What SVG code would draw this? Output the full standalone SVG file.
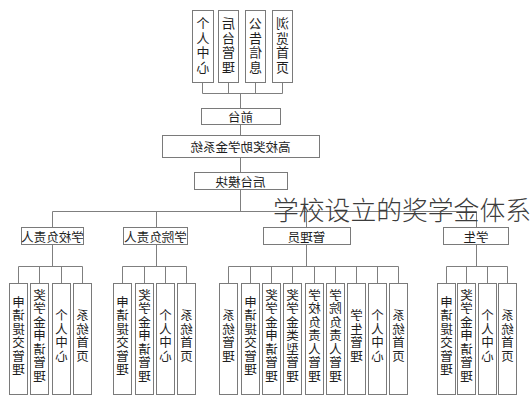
<svg xmlns="http://www.w3.org/2000/svg" width="532" height="400" viewBox="0 0 532 400">
<style>
.box{fill:#fff;stroke:#7a7a7a;stroke-width:1}
.ln{fill:none;stroke:#7f7f7f;stroke-width:1}
.t{font-family:"Noto Sans CJK SC","Noto Sans CJK JP",sans-serif;font-size:12.5px;fill:#1e1e1e;text-anchor:middle;dominant-baseline:central}
.vt{font-family:"Noto Sans CJK SC","Noto Sans CJK JP",sans-serif;font-size:12.5px;fill:#1e1e1e;text-anchor:middle;writing-mode:vertical-rl;letter-spacing:1px}
.vtop{font-size:13px;letter-spacing:1.5px}
.title{font-family:"Noto Sans CJK SC","Noto Sans CJK JP",sans-serif;font-size:25.8px;fill:#3c3c3c;font-weight:300}
</style>
<rect width="532" height="400" fill="#fff"/>
<g id="connectors">
<path class="ln" d="M202.5 82V93.5H282.5M228.5 82V93.5M255.5 82V93.5M282.5 82V93.5M240.5 93.5V108M240.5 124V135M240.5 157V172M240.5 189V211.5"/>
<path class="ln" d="M52.5 211.5H476.5M52.5 211.5V227M156.5 211.5V227M306.5 211.5V227M476.5 211.5V227"/>
<path class="ln" d="M52.5 244V266.5M18.5 266.5H82.5M18.5 266.5V283M39.5 266.5V283M61.5 266.5V283M82.5 266.5V283"/>
<path class="ln" d="M156.5 244V266.5M122.5 266.5H186.5M122.5 266.5V283M144.5 266.5V283M165.5 266.5V283M186.5 266.5V283"/>
<path class="ln" d="M306.5 244V266.5M228.5 266.5H398.5M228.5 266.5V283M250.5 266.5V283M271.5 266.5V283M292.5 266.5V283M314.5 266.5V283M335.5 266.5V283M356.5 266.5V283M377.5 266.5V283M398.5 266.5V283"/>
<path class="ln" d="M476.5 244V266.5M446.5 266.5H507.5M446.5 266.5V283M466.5 266.5V283M487.5 266.5V283M507.5 266.5V283"/>
</g>
<g id="top-gerenzhongxin"><rect class="box" x="192.5" y="10.5" width="21" height="72"/><text class="vt vtop" x="203" y="46" transform="matrix(-1 0 0 1 406 0)">个人中心</text></g>
<g id="top-houtaiguanli"><rect class="box" x="218.5" y="10.5" width="20" height="72"/><text class="vt vtop" x="228.5" y="46" transform="matrix(-1 0 0 1 457 0)">后台管理</text></g>
<g id="top-gonggaoxinxi"><rect class="box" x="245.5" y="10.5" width="20" height="72"/><text class="vt vtop" x="255.5" y="46" transform="matrix(-1 0 0 1 511 0)">公告信息</text></g>
<g id="top-liulanshouye"><rect class="box" x="272.5" y="10.5" width="20" height="72"/><text class="vt vtop" x="282.5" y="46" transform="matrix(-1 0 0 1 565 0)">浏览首页</text></g>
<g id="qiantai"><rect class="box" x="201.5" y="108.5" width="79" height="16"/><text class="t" x="240.5" y="116.5" transform="matrix(-1 0 0 1 481 0)">前台</text></g>
<g id="xitong"><rect class="box" x="162.5" y="135.5" width="157" height="22"/><text class="t" x="240.5" y="146.5" transform="matrix(-1 0 0 1 481 0)">高校奖助学金系统</text></g>
<g id="houtai"><rect class="box" x="194.5" y="172.5" width="93" height="17"/><text class="t" x="240.5" y="181" transform="matrix(-1 0 0 1 481 0)">后台模块</text></g>
<g id="xuexiao"><rect class="box" x="21.5" y="227.5" width="62" height="17"/><text class="t" x="52.5" y="236" transform="matrix(-1 0 0 1 105 0)">学校负责人</text></g>
<g id="xueyuan"><rect class="box" x="123.5" y="227.5" width="64" height="17"/><text class="t" x="155.5" y="236" transform="matrix(-1 0 0 1 311 0)">学院负责人</text></g>
<g id="guanliyuan"><rect class="box" x="263.5" y="227.5" width="87" height="17"/><text class="t" x="306.5" y="236" transform="matrix(-1 0 0 1 613 0)">管理员</text></g>
<g id="xuesheng"><rect class="box" x="443.5" y="227.5" width="65" height="17"/><text class="t" x="476" y="236" transform="matrix(-1 0 0 1 952 0)">学生</text></g>

<g id="g1-shenqing"><rect class="box" x="9.5" y="283.5" width="18" height="111"/><text class="vt" x="18.5" y="336" transform="matrix(-1 0 0 1 37 0)">申请提交管理</text></g>
<g id="g1-jiangxuejin"><rect class="box" x="30.5" y="283.5" width="18" height="111"/><text class="vt" x="39.5" y="336" transform="matrix(-1 0 0 1 79 0)">奖学金申请管理</text></g>
<g id="g1-geren"><rect class="box" x="52.5" y="283.5" width="18" height="111"/><text class="vt" x="61.5" y="336" transform="matrix(-1 0 0 1 123 0)">个人中心</text></g>
<g id="g1-shouye"><rect class="box" x="73.5" y="283.5" width="18" height="111"/><text class="vt" x="82.5" y="336" transform="matrix(-1 0 0 1 165 0)">系统首页</text></g>

<g id="g2-shenqing"><rect class="box" x="113.5" y="283.5" width="18" height="111"/><text class="vt" x="122.5" y="336" transform="matrix(-1 0 0 1 245 0)">申请提交管理</text></g>
<g id="g2-jiangxuejin"><rect class="box" x="135.5" y="283.5" width="18" height="111"/><text class="vt" x="144.5" y="336" transform="matrix(-1 0 0 1 289 0)">奖学金申请管理</text></g>
<g id="g2-geren"><rect class="box" x="156.5" y="283.5" width="18" height="111"/><text class="vt" x="165.5" y="336" transform="matrix(-1 0 0 1 331 0)">个人中心</text></g>
<g id="g2-shouye"><rect class="box" x="177.5" y="283.5" width="18" height="111"/><text class="vt" x="186.5" y="336" transform="matrix(-1 0 0 1 373 0)">系统首页</text></g>

<g id="g3-xitongguanli"><rect class="box" x="219.5" y="283.5" width="18" height="111"/><text class="vt" x="228.5" y="336" transform="matrix(-1 0 0 1 457 0)">系统管理</text></g>
<g id="g3-shenqing"><rect class="box" x="241.5" y="283.5" width="18" height="111"/><text class="vt" x="250.5" y="336" transform="matrix(-1 0 0 1 501 0)">申请提交管理</text></g>
<g id="g3-jiangxuejin"><rect class="box" x="262.5" y="283.5" width="18" height="111"/><text class="vt" x="271.5" y="336" transform="matrix(-1 0 0 1 543 0)">奖学金申请管理</text></g>
<g id="g3-leixing"><rect class="box" x="283.5" y="283.5" width="18" height="111"/><text class="vt" x="292.5" y="336" transform="matrix(-1 0 0 1 585 0)">奖学金类型管理</text></g>
<g id="g3-xuexiao"><rect class="box" x="305.5" y="283.5" width="18" height="111"/><text class="vt" x="314.5" y="336" transform="matrix(-1 0 0 1 629 0)">学校负责人管理</text></g>
<g id="g3-xueyuan"><rect class="box" x="326.5" y="283.5" width="18" height="111"/><text class="vt" x="335.5" y="336" transform="matrix(-1 0 0 1 671 0)">学院负责人管理</text></g>
<g id="g3-xuesheng"><rect class="box" x="347.5" y="283.5" width="18" height="111"/><text class="vt" x="356.5" y="336" transform="matrix(-1 0 0 1 713 0)">学生管理</text></g>
<g id="g3-geren"><rect class="box" x="368.5" y="283.5" width="18" height="111"/><text class="vt" x="377.5" y="336" transform="matrix(-1 0 0 1 755 0)">个人中心</text></g>
<g id="g3-shouye"><rect class="box" x="389.5" y="283.5" width="18" height="111"/><text class="vt" x="398.5" y="336" transform="matrix(-1 0 0 1 797 0)">系统首页</text></g>

<g id="g4-shenqing"><rect class="box" x="437.5" y="283.5" width="18" height="111"/><text class="vt" x="446.5" y="336" transform="matrix(-1 0 0 1 893 0)">申请提交管理</text></g>
<g id="g4-jiangxuejin"><rect class="box" x="457.5" y="283.5" width="18" height="111"/><text class="vt" x="466.5" y="336" transform="matrix(-1 0 0 1 933 0)">奖学金申请管理</text></g>
<g id="g4-geren"><rect class="box" x="478.5" y="283.5" width="18" height="111"/><text class="vt" x="487.5" y="336" transform="matrix(-1 0 0 1 975 0)">个人中心</text></g>
<g id="g4-shouye"><rect class="box" x="498.5" y="283.5" width="18" height="111"/><text class="vt" x="507.5" y="336" transform="matrix(-1 0 0 1 1015 0)">系统首页</text></g>

<text class="title" x="273" y="220">学校设立的奖学金体系</text>
</svg>
